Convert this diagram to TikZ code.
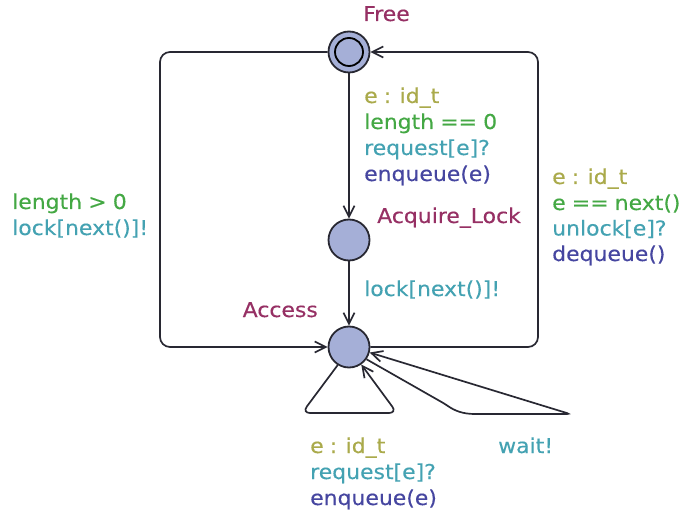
\documentclass[tikz,border=0pt]{standalone}
\usepackage{fontspec}
\setmainfont{DejaVu Sans}[FakeStretch=1.07,FakeBold=0.3]
\usetikzlibrary{arrows.meta}

\definecolor{locname}{RGB}{150,48,100}
\definecolor{selectc}{RGB}{170,170,75}
\definecolor{guardc}{RGB}{68,168,68}
\definecolor{syncc}{RGB}{68,162,178}
\definecolor{updatec}{RGB}{70,70,160}
\definecolor{locfill}{RGB}{165,175,215}
\definecolor{stroke}{RGB}{40,40,50}

% label font with slightly narrower word spaces
\newcommand{\lblfont}{\fontsize{20.5}{24}\selectfont
  \setlength{\spaceskip}{0.3em}}

\begin{document}
\begin{tikzpicture}[x=1pt,y=-1pt,
  loc/.style={circle, draw=stroke, fill=locfill, line width=1.8pt,
              minimum size=41pt, inner sep=0pt},
  edge/.style={draw=stroke, line width=1.7pt,
               -{Straight Barb[length=11pt,width=11pt]}},
  lbl/.style={anchor=base west, inner sep=0pt, font=\lblfont},
  lblr/.style={lbl, anchor=base east}]
\useasboundingbox (0,0) rectangle (684,518);

% locations
\node[loc] (free) at (349,52) {};
\draw[stroke, line width=1.8pt] (free.center) circle (14pt);
\node[loc] (acq) at (349,240) {};
\node[loc] (acc) at (349,347) {};

% location names
\node[lbl, text=locname] (freename) at (363,21) {Free};
\node[lbl, text=locname] (acqname) at (377,223) {Acquire\_Lock};
\node[lblr, text=locname] (accname) at (318,317) {Access};

% corner points of the edges
\coordinate (rb) at (538,347);
\coordinate (rt) at (538,52);
\coordinate (lt) at (160,52);
\coordinate (lb) at (160,347);
\coordinate (t1) at (302,413);
\coordinate (t2) at (397,413);
\coordinate (w0) at (445,404);
\coordinate (w1) at (478,414);
\coordinate (w2) at (570,414);

% edges
\draw[edge] (free) -- (acq);
\draw[edge] (acq) -- (acc);
\draw[edge, rounded corners=10pt] (acc) -- (rb) -- (rt) -- (free);
\draw[edge, rounded corners=10pt] (free) -- (lt) -- (lb) -- (acc);
\draw[edge, rounded corners=8pt] (acc.-122) -- (t1) -- (t2) -- (acc.-55);
\draw[edge, rounded corners=3pt] (acc.-35) -- (w0)
  .. controls (455,411) and (463,414) .. (w1) -- (w2) -- (acc.-15);

% Free -> Acquire_Lock
\node[lbl, text=selectc] (s1) at (364,103) {e : id\_t};
\node[lbl, text=guardc]  (g1) at (364,129) {length == 0};
\node[lbl, text=syncc]   (y1) at (364,155) {request[e]?};
\node[lbl, text=updatec] (u1) at (364,181) {enqueue(e)};

% Acquire_Lock -> Access
\node[lbl, text=syncc] (y2) at (364,296) {lock[next()]!};

% Free -> Access
\node[lbl, text=guardc] (g3) at (12,209) {length > 0};
\node[lbl, text=syncc]  (y3) at (12,235) {lock[next()]!};

% Access -> Free
\node[lbl, text=selectc] (s4) at (552,184) {e : id\_t};
\node[lbl, text=guardc]  (g4) at (552,210) {e == next()};
\node[lbl, text=syncc]   (y4) at (552,235.5) {unlock[e]?};
\node[lbl, text=updatec] (u4) at (552,261) {dequeue()};

% Access self loops
\node[lbl, text=selectc] (s5) at (310,453) {e : id\_t};
\node[lbl, text=syncc]   (y5) at (310,479) {request[e]?};
\node[lbl, text=updatec] (u5) at (310,505) {enqueue(e)};
\node[lbl, text=syncc]   (y6) at (498,453) {wait!};
\end{tikzpicture}
\end{document}
